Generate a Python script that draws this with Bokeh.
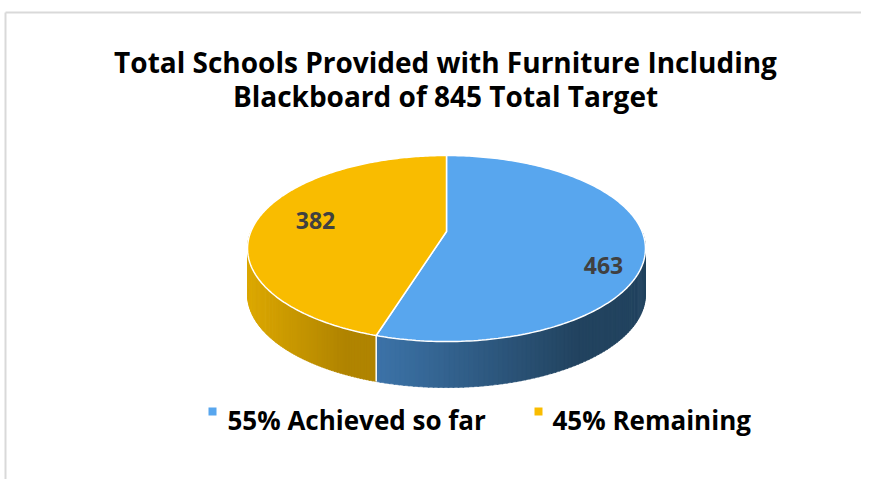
import numpy as np
from bokeh.plotting import figure
from bokeh.models import Range1d
from bokeh.core.properties import value
from bokeh.embed import file_html
from bokeh.resources import INLINE

# ---- data ----
categories = ["Achieved so far", "Remaining"]
counts = [463, 382]
percent_labels = ["55% Achieved so far", "45% Remaining"]
title_lines = ["Total Schools Provided with Furniture Including",
               "Blackboard of 845 Total Target"]

top_colors = ["#58a6ee", "#f9bc00"]
side_left = ["#3c73a8", "#dba700"]
side_right = ["#22435f", "#b08400"]

FONT = value("Open Sans")

W, H = 861, 479
p = figure(width=W, height=H, output_backend="svg", toolbar_location=None,
           x_range=Range1d(0, W), y_range=Range1d(H, 0),
           min_border=0)
p.axis.visible = False
p.grid.visible = False
p.outline_line_color = None
p.background_fill_color = "white"
p.border_fill_color = "white"

# frame lines of the chart area
p.line([5, W], [12, 12], line_color="#d9d9d9", line_width=2)
p.line([5, 5], [12, H], line_color="#d9d9d9", line_width=2)

# pie geometry (screen pixels) with a simple perspective projection
cx, cy, A, B, k, d = 446, 231, 195.6, 89.9, 0.183, 46
total = sum(counts)
bounds = np.concatenate([[0], np.cumsum(counts) / total * 360.0])


def ex(t):
    t = np.radians(t)
    return cx + A * np.sin(t) / (1 + k * np.cos(t))


def ey(t):
    t = np.radians(t)
    return cy - B * np.cos(t) / (1 + k * np.cos(t))


def mix(c1, c2, f):
    f = min(max(f, 0.0), 1.0)
    r1, g1, b1 = int(c1[1:3], 16), int(c1[3:5], 16), int(c1[5:7], 16)
    r2, g2, b2 = int(c2[1:3], 16), int(c2[3:5], 16), int(c2[5:7], 16)
    return "#%02x%02x%02x" % (round(r1 + (r2 - r1) * f), round(g1 + (g2 - g1) * f),
                              round(b1 + (b2 - b1) * f))


# side (front half: 90..270 deg clockwise from top)
xs, ys, cs = [], [], []
for i in range(len(counts)):
    t0, t1 = max(bounds[i], 90.0), min(bounds[i + 1], 270.0)
    if t1 <= t0:
        continue
    xl, xr = ex(t1), max(ex(np.linspace(t0, t1, 50)))
    n = 90
    ts = np.linspace(t0, t1, n + 1)
    for j in range(n):
        ta = ts[j]
        tb = ts[j + 1] + 0.3 if j < n - 1 else ts[j + 1]
        xm = (ex(ta) + ex(tb)) / 2
        f = (xm - xl) / max(xr - xl, 1) / 0.75
        col = mix(side_left[i], side_right[i], f)
        xs.append([ex(ta), ex(tb), ex(tb), ex(ta)])
        ys.append([ey(ta), ey(tb), ey(tb) + d, ey(ta) + d])
        cs.append(col)
p.patches(xs, ys, fill_color=cs, line_color=cs, line_width=0.6)

# white edge lines on the side at slice boundaries
for t in bounds[1:-1]:
    if 90 <= t <= 270:
        p.line([ex(t), ex(t)], [ey(t), ey(t) + d], line_color="white", line_width=1.5)

# top face
txs, tys = [], []
for i in range(len(counts)):
    ts = np.linspace(bounds[i], bounds[i + 1], 200)
    txs.append([cx] + list(ex(ts)))
    tys.append([cy] + list(ey(ts)))
p.patches(txs, tys, fill_color=top_colors, line_color="white", line_width=1.5)

# data labels
label_x = [603, 315]
label_y = [265, 220]
p.text(label_x, label_y, text=[str(c) for c in counts], text_align="center",
       text_baseline="alphabetic", text_font=FONT, text_font_style="bold",
       text_font_size="23px", text_color="#404040")

# title
p.text([445, 445], [61, 95], text=title_lines, text_align="center",
       text_baseline="alphabetic", text_font=FONT, text_font_style="bold",
       text_font_size="28px", text_color="#000000")

# legend
sq_x = [212, 538]
txt_x = [227, 552]
p.scatter(sq_x, [411, 411], marker="square", size=8, fill_color=top_colors,
          line_color=None)
p.text(txt_x, [419, 419], text=percent_labels, text_align="left",
       text_baseline="alphabetic", text_font=FONT, text_font_style="bold",
       text_font_size="26px", text_color="#000000")

open("out.html", "w").write(file_html(p, INLINE))
